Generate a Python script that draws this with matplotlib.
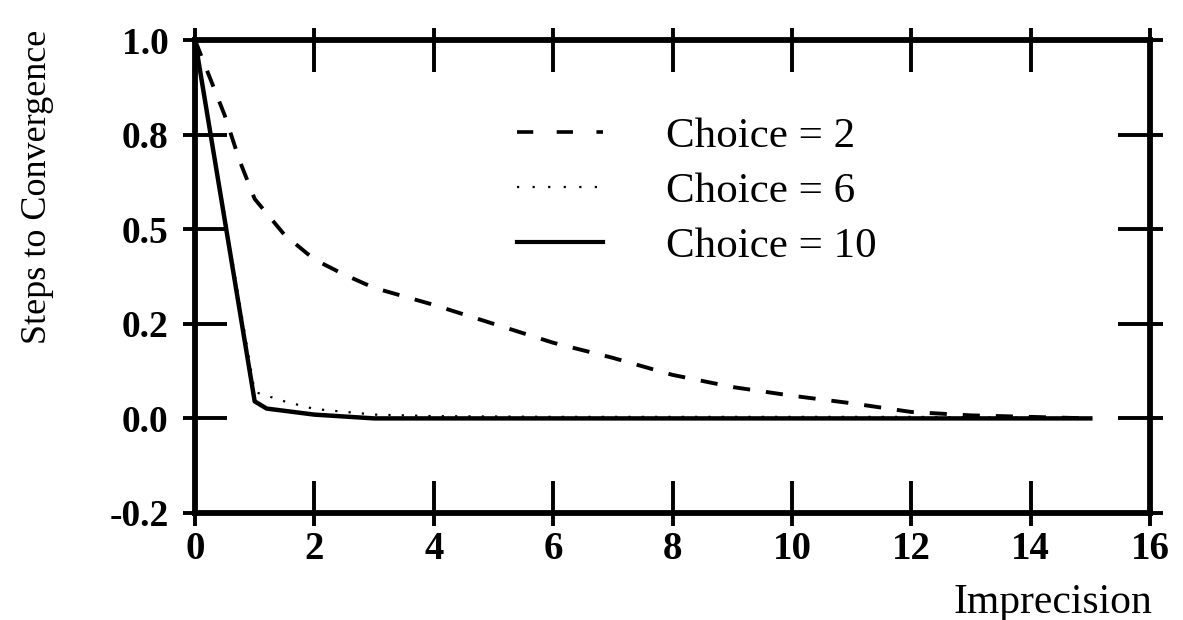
import matplotlib
matplotlib.use("Agg")
import matplotlib.pyplot as plt
from matplotlib.ticker import FixedLocator
from matplotlib.lines import Line2D

# ---- data ----
x_choice2 = [0, 0.25, 0.5, 0.75, 1, 1.5, 2, 2.5, 3, 4, 5, 6, 7, 8, 9, 10, 11, 12, 13, 14, 15]
y_choice2 = [1.0, 0.90, 0.80, 0.68, 0.58, 0.485, 0.42, 0.38, 0.345, 0.30, 0.25, 0.20,
             0.16, 0.115, 0.083, 0.06, 0.04, 0.017, 0.008, 0.004, 0.0]

x_choice6 = [0, 1, 1.5, 2, 3, 4, 5, 6, 7, 8, 9, 10, 11, 12, 13, 14, 15]
y_choice6 = [1.0, 0.07, 0.045, 0.025, 0.01, 0.006, 0.005, 0.004, 0.004, 0.004, 0.004,
             0.004, 0.004, 0.004, 0.003, 0.002, 0.0]

x_choice10 = [0, 1, 1.2, 2, 3, 4, 5, 6, 7, 8, 9, 10, 11, 12, 13, 14, 15]
y_choice10 = [1.0, 0.045, 0.026, 0.01, 0.0, 0.0, 0.0, 0.0, 0.0, 0.0, 0.0, 0.0,
              0.0, 0.0, 0.0, 0.0, 0.0]

x_ticks = [0, 2, 4, 6, 8, 10, 12, 14, 16]
x_ticklabels = ["0", "2", "4", "6", "8", "10", "12", "14", "16"]
y_ticks = [-0.25, 0.0, 0.25, 0.5, 0.75, 1.0]
y_ticklabels = ["-0.2", "0.0", "0.2", "0.5", "0.8", "1.0"]

labels = ["Choice = 2", "Choice = 6", "Choice = 10"]

# ---- figure ----
plt.rcParams['font.family'] = ['Liberation Serif', 'DejaVu Serif']
W, H = 1183, 620
fig = plt.figure(figsize=(W / 100, H / 100), dpi=100)
ax = fig.add_axes([195 / W, 1 - 513 / H, (1150 - 195) / W, (513 - 40) / H])

ax.plot(x_choice2, y_choice2, color='black', lw=2.8, linestyle=(0, (4.4, 4.1)),
        label=labels[0])
ax.plot(x_choice6, y_choice6, color='black', lw=1.6, linestyle=(0, (1, 5)),
        label=labels[1])
ax.plot(x_choice10, y_choice10, color='black', lw=3.2, linestyle='-',
        label=labels[2])

ax.set_xlim(0, 16)
ax.set_ylim(-0.25, 1.0)

for s in ax.spines.values():
    s.set_linewidth(4.2)

ax.xaxis.remove_overlapping_locs = False
ax.yaxis.remove_overlapping_locs = False
ax.set_xticks(x_ticks)
ax.set_xticklabels(x_ticklabels)
ax.set_yticks(y_ticks)
ax.set_yticklabels(y_ticklabels)
ax.xaxis.set_minor_locator(FixedLocator(x_ticks))
ax.yaxis.set_minor_locator(FixedLocator(y_ticks))

ax.tick_params(axis='both', which='major', direction='in', length=23, width=2.8,
               top=True, right=True, colors='black')
ax.tick_params(axis='both', which='minor', direction='out', length=9, width=2.8,
               top=True, right=True)
ax.tick_params(axis='x', which='major', pad=13, labelsize=28)
ax.tick_params(axis='y', which='major', pad=19, labelsize=27)
for t in ax.get_xticklabels() + ax.get_yticklabels():
    t.set_fontweight('bold')

fig.text(38 / W, 1 - 187 / H, "Steps to Convergence", rotation=90,
         ha='center', va='center', fontsize=26)
fig.text(1152 / W, 1 - 603 / H, "Imprecision", ha='right', va='center', fontsize=30)

handles = [
    Line2D([], [], color='black', lw=2.6, linestyle=(0, (4.5, 6.5))),
    Line2D([], [], color='black', lw=1.6, linestyle=(0, (1, 6))),
    Line2D([], [], color='black', lw=3.0, linestyle='-'),
]
leg = ax.legend(handles, labels, loc='upper left', bbox_to_anchor=(517 / W, 1 - 117 / H),
                bbox_transform=fig.transFigure, frameon=False, fontsize=31,
                handlelength=2.0, handletextpad=1.45, labelspacing=0.37,
                borderpad=0, borderaxespad=0)

fig.savefig("out.png", dpi=100, facecolor='white')
